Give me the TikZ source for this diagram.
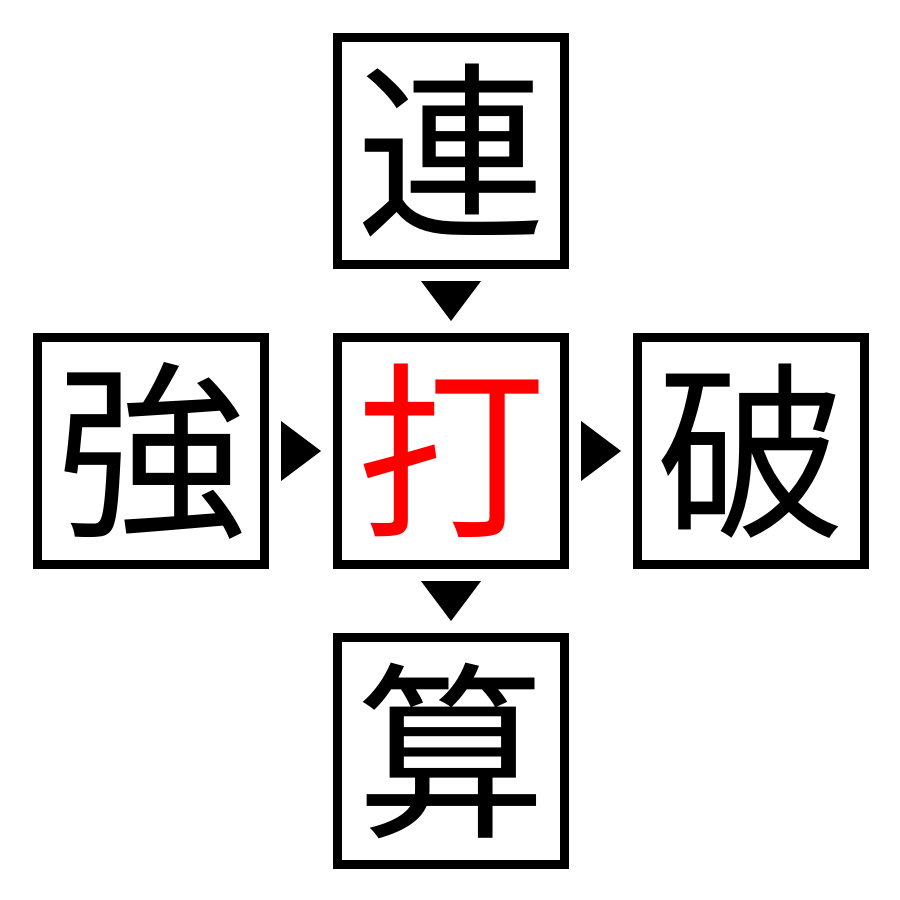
\documentclass[tikz,border=0pt]{standalone}
\usepackage{fontspec}
\newfontfamily\cjk{Noto Sans CJK JP}
\usetikzlibrary{calc}
\begin{document}
\begin{tikzpicture}[x=0.01cm,y=-0.01cm,
  box/.style={draw=black,line width=0.095cm,fill=white,minimum size=2.27cm,inner sep=0pt,font=\cjk\fontsize{54}{54}\selectfont},
  tri/.style={fill=black}]
\useasboundingbox (0,0) rectangle (900,900);
\node[box] (top) at (451,151) {連};
\node[box] (mid) at (451,451) {\textcolor{red}{打}};
\node[box] (left) at (151,451) {強};
\node[box] (right) at (751,451) {破};
\node[box] (bot) at (451,751) {算};
\coordinate (c1) at ($(top.south)!0.5!(mid.north)$);
\coordinate (c2) at ($(mid.south)!0.5!(bot.north)$);
\coordinate (c3) at ($(left.east)!0.5!(mid.west)$);
\coordinate (c4) at ($(mid.east)!0.5!(right.west)$);
\foreach \c in {c1,c2}
  \fill[tri] ($(\c)+(-30,-20)$) -- ($(\c)+(30,-20)$) -- ($(\c)+(0,20)$) -- cycle;
\foreach \c in {c3,c4}
  \fill[tri] ($(\c)+(-20,-30)$) -- ($(\c)+(-20,30)$) -- ($(\c)+(20,0)$) -- cycle;
\end{tikzpicture}
\end{document}
